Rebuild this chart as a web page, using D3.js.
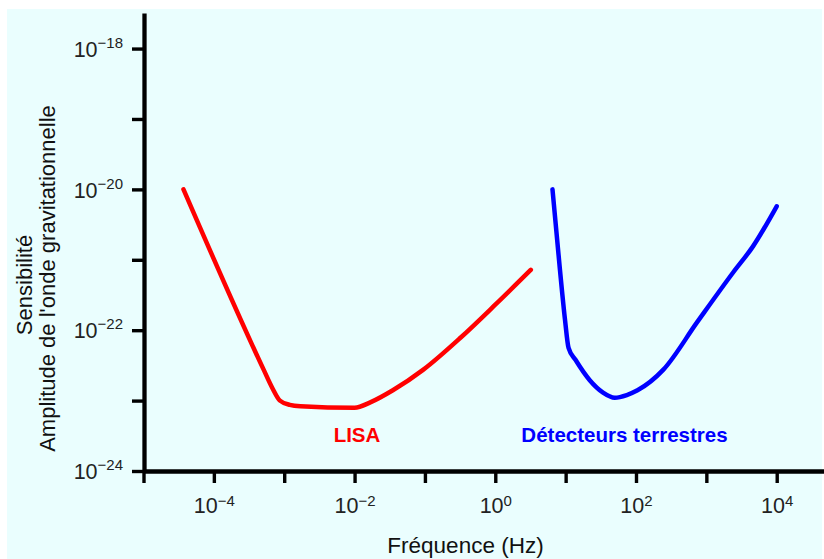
<!DOCTYPE html>
<html>
<head>
<meta charset="utf-8">
<script src="https://cdn.jsdelivr.net/npm/d3@7"></script>
<style>
  html, body { margin: 0; padding: 0; background: #ffffff; }
  svg { display: block; font-family: "Liberation Sans", Arial, Helvetica, sans-serif; }
</style>
</head>
<body>
<svg id="chart" width="824" height="559"></svg>
<script>
// ---- data ----
const lisaFreq = [3.7e-5, 5.1e-4, 6.8e-4, 8.7e-4, 1.2e-3, 1.7e-3, 1.0e-2, 1.7e-2, 3.5e-2, 9.5e-2, 0.32, 1.0, 3.2];
const lisaH    = [1.0e-20, 2.75e-23, 1.5e-23, 1.0e-23, 8.7e-24, 8.3e-24, 7.9e-24, 9.5e-24, 1.4e-23, 2.75e-23, 7.8e-23, 2.3e-22, 7.2e-22];

const groundFreq = [6.5, 8.3, 9.8, 11, 13.8, 22, 34, 50, 74, 105, 245, 740, 2400, 4600, 10000];
const groundH    = [1.0e-20, 7.2e-22, 1.4e-22, 5.6e-23, 3.8e-23, 1.95e-23, 1.3e-23, 1.1e-23, 1.2e-23, 1.4e-23, 2.75e-23, 1.3e-22, 6.6e-22, 1.55e-21, 5.75e-21];

const xMajorTicks = [1e-4, 1e-2, 1e0, 1e2, 1e4];
const xMinorTicks = [1e-5, 1e-3, 1e-1, 1e1, 1e3];
const xTickExp = ["−4", "−2", "0", "2", "4"];
const yMajorTicks = [1e-24, 1e-22, 1e-20, 1e-18];
const yMinorTicks = [1e-23, 1e-21, 1e-19];
const yTickExp = ["−24", "−22", "−20", "−18"];

const xTitle = "Fréquence (Hz)";
const yTitle1 = "Sensibilité";
const yTitle2 = "Amplitude de l'onde gravitationnelle";
const lisaLabel = "LISA";
const groundLabel = "Détecteurs terrestres";

// ---- layout ----
const svg = d3.select("#chart");
svg.append("rect").attr("x", 7).attr("y", 9).attr("width", 815).attr("height", 550).attr("fill", "#eafefe");

const x = d3.scaleLog().domain([1e-5, 4.7e4]).range([143.5, 824]);
const y = d3.scaleLog().domain([1e-24, 3.2e-18]).range([471, 13]);

const axisX = 144, axisY = 471;

// y axis
const gy = svg.append("g").attr("transform", `translate(${axisX},0)`)
  .call(d3.axisLeft(y).tickValues(yMajorTicks.concat(yMinorTicks)).tickSize(12).tickSizeOuter(0).tickPadding(9).tickFormat(""));
gy.select(".domain").attr("stroke", "#000").attr("stroke-width", 4.3);
gy.selectAll(".tick line").attr("stroke", "#000").attr("stroke-width", 3.4);
gy.selectAll(".tick text").each(function(d) {
  const i = yMajorTicks.indexOf(d);
  if (i < 0) return;
  const t = d3.select(this).attr("fill", "#222").attr("font-size", 21.5).attr("dy", "0.36em");
  t.append("tspan").text("10");
  t.append("tspan").attr("font-size", 15).attr("dy", -9).text(yTickExp[i]);
});

// x axis
const gx = svg.append("g").attr("transform", `translate(0,${axisY})`)
  .call(d3.axisBottom(x).tickValues(xMajorTicks.concat(xMinorTicks)).tickSize(12).tickSizeOuter(0).tickPadding(15).tickFormat(""));
gx.select(".domain").attr("stroke", "#000").attr("stroke-width", 4.3);
gx.selectAll(".tick line").attr("stroke", "#000").attr("stroke-width", 3.4);
gx.selectAll(".tick text").each(function(d) {
  const i = xMajorTicks.indexOf(d);
  if (i < 0) return;
  const t = d3.select(this).attr("fill", "#222").attr("font-size", 21.5).attr("dy", "0.71em");
  t.append("tspan").text("10");
  t.append("tspan").attr("font-size", 15).attr("dy", -7.5).text(xTickExp[i]);
});

// axis titles
svg.append("text").attr("x", 465.5).attr("y", 553).attr("text-anchor", "middle")
  .attr("font-size", 22.5).attr("fill", "#111").text(xTitle);
svg.append("text").attr("transform", "translate(32,285) rotate(-90)").attr("text-anchor", "middle")
  .attr("font-size", 22).attr("fill", "#111").text(yTitle1);
svg.append("text").attr("transform", "translate(54.5,278.5) rotate(-90)").attr("text-anchor", "middle")
  .attr("font-size", 22).attr("fill", "#111").text(yTitle2);

// curves
const line = d3.line().x(d => x(d[0])).y(d => y(d[1])).curve(d3.curveMonotoneX);
svg.append("path").datum(d3.zip(lisaFreq, lisaH)).attr("d", line)
  .attr("fill", "none").attr("stroke", "#ff0000").attr("stroke-width", 4.5)
  .attr("stroke-linecap", "round").attr("stroke-linejoin", "round");
svg.append("path").datum(d3.zip(groundFreq, groundH)).attr("d", line)
  .attr("fill", "none").attr("stroke", "#0000ff").attr("stroke-width", 4.5)
  .attr("stroke-linecap", "round").attr("stroke-linejoin", "round");

// labels
svg.append("text").attr("x", 357).attr("y", 442).attr("text-anchor", "middle")
  .attr("font-size", 20.5).attr("font-weight", "bold").attr("fill", "#ff0000").text(lisaLabel);
svg.append("text").attr("x", 624.5).attr("y", 442).attr("text-anchor", "middle")
  .attr("font-size", 20.5).attr("font-weight", "bold").attr("fill", "#0000ff").text(groundLabel);
</script>
</body>
</html>
